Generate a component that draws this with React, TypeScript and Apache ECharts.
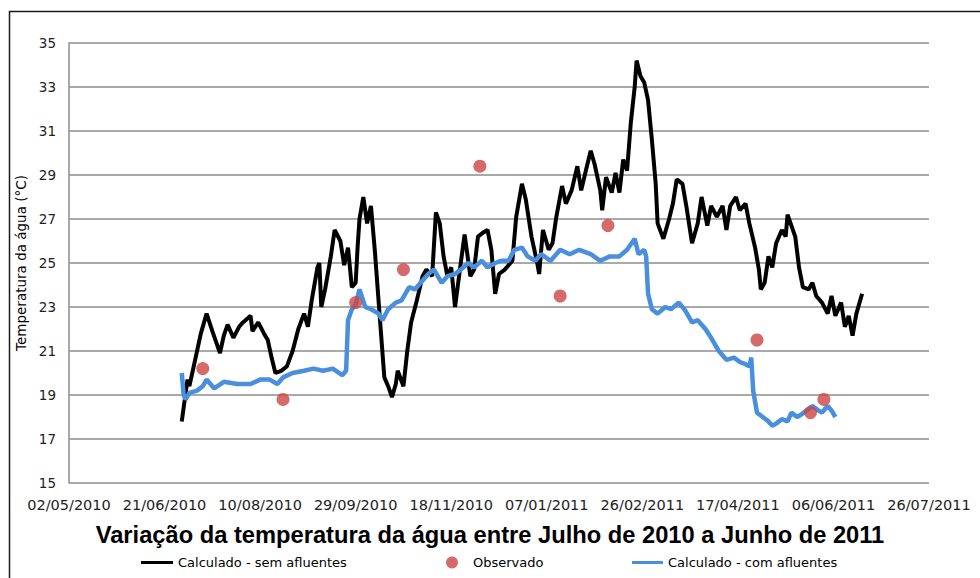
import React, { useEffect, useRef } from "react";
import * as echarts from "echarts";

const titleText = "Variação da temperatura da água entre Julho de 2010 a Junho de 2011";
const yAxisName = "Temperatura da água (°C)";
const seriesNames = ["Calculado - sem afluentes", "Observado", "Calculado - com afluentes"];

const xStartDate = "2010-05-02";
const xEndDate = "2011-07-26";
const xTickDays = 50;
const yMin = 15;
const yMax = 35;
const yStep = 2;

const semAfluentes: [string, number][] = [
  ["2010-06-30", 17.8], ["2010-07-03", 19.7], ["2010-07-04", 19.4], ["2010-07-07", 20.6], ["2010-07-10", 21.8],
  ["2010-07-13", 22.7], ["2010-07-16", 21.9], ["2010-07-20", 20.9], ["2010-07-22", 21.7], ["2010-07-24", 22.2],
  ["2010-07-27", 21.6], ["2010-07-30", 22.1], ["2010-08-01", 22.3], ["2010-08-05", 22.6], ["2010-08-06", 21.9],
  ["2010-08-09", 22.3], ["2010-08-12", 21.8], ["2010-08-14", 21.5], ["2010-08-16", 20.7], ["2010-08-18", 20.0],
  ["2010-08-21", 20.1], ["2010-08-24", 20.3], ["2010-08-27", 21.0], ["2010-08-30", 22.0], ["2010-09-02", 22.7],
  ["2010-09-04", 22.1], ["2010-09-06", 23.3], ["2010-09-09", 24.8], ["2010-09-10", 25.0], ["2010-09-11", 23.0],
  ["2010-09-13", 23.8], ["2010-09-16", 25.3], ["2010-09-18", 26.5], ["2010-09-21", 26.0], ["2010-09-23", 24.9],
  ["2010-09-25", 25.7], ["2010-09-27", 23.9], ["2010-09-29", 24.1], ["2010-09-30", 25.7], ["2010-10-01", 27.0],
  ["2010-10-03", 28.0], ["2010-10-05", 26.8], ["2010-10-07", 27.6], ["2010-10-09", 25.6], ["2010-10-12", 22.1],
  ["2010-10-14", 19.8], ["2010-10-16", 19.4], ["2010-10-18", 18.9], ["2010-10-20", 19.5], ["2010-10-21", 20.1],
  ["2010-10-24", 19.4], ["2010-10-26", 21.0], ["2010-10-28", 22.3], ["2010-10-31", 23.3], ["2010-11-03", 24.4],
  ["2010-11-05", 24.7], ["2010-11-08", 24.4], ["2010-11-10", 27.3], ["2010-11-12", 26.8], ["2010-11-14", 25.3],
  ["2010-11-16", 24.4], ["2010-11-18", 24.8], ["2010-11-20", 23.0], ["2010-11-23", 25.0], ["2010-11-25", 26.3],
  ["2010-11-28", 24.4], ["2010-11-30", 24.7], ["2010-12-02", 26.2], ["2010-12-05", 26.4], ["2010-12-07", 26.5],
  ["2010-12-09", 25.6], ["2010-12-11", 23.6], ["2010-12-13", 24.5], ["2010-12-16", 24.7], ["2010-12-20", 25.1],
  ["2010-12-22", 27.1], ["2010-12-25", 28.6], ["2010-12-27", 27.9], ["2010-12-30", 26.2], ["2011-01-02", 25.0],
  ["2011-01-03", 24.5], ["2011-01-05", 26.5], ["2011-01-08", 25.6], ["2011-01-10", 25.9], ["2011-01-12", 27.1],
  ["2011-01-15", 28.5], ["2011-01-17", 27.7], ["2011-01-20", 28.3], ["2011-01-23", 29.4], ["2011-01-25", 28.3],
  ["2011-01-28", 29.4], ["2011-01-30", 30.1], ["2011-02-01", 29.5], ["2011-02-04", 28.3], ["2011-02-05", 27.4],
  ["2011-02-07", 28.9], ["2011-02-10", 28.2], ["2011-02-12", 29.1], ["2011-02-14", 28.2], ["2011-02-16", 29.7],
  ["2011-02-18", 29.2], ["2011-02-20", 31.4], ["2011-02-22", 33.0], ["2011-02-23", 34.2], ["2011-02-25", 33.5],
  ["2011-02-27", 33.2], ["2011-03-01", 32.4], ["2011-03-03", 30.6], ["2011-03-05", 28.6], ["2011-03-06", 26.8],
  ["2011-03-09", 26.1], ["2011-03-12", 27.0], ["2011-03-14", 27.7], ["2011-03-16", 28.8], ["2011-03-19", 28.6],
  ["2011-03-21", 27.6], ["2011-03-24", 25.9], ["2011-03-27", 26.8], ["2011-03-29", 28.0], ["2011-04-01", 26.7],
  ["2011-04-03", 27.6], ["2011-04-06", 27.1], ["2011-04-09", 27.6], ["2011-04-11", 26.5], ["2011-04-13", 27.6],
  ["2011-04-16", 28.0], ["2011-04-18", 27.4], ["2011-04-21", 27.7], ["2011-04-23", 26.8], ["2011-04-26", 25.7],
  ["2011-04-28", 24.7], ["2011-04-29", 23.8], ["2011-05-01", 24.1], ["2011-05-03", 25.3], ["2011-05-05", 24.8],
  ["2011-05-07", 25.9], ["2011-05-10", 26.5], ["2011-05-12", 26.2], ["2011-05-13", 27.2], ["2011-05-15", 26.7],
  ["2011-05-17", 26.2], ["2011-05-19", 24.8], ["2011-05-21", 23.9], ["2011-05-24", 23.8], ["2011-05-26", 24.1],
  ["2011-05-28", 23.5], ["2011-05-31", 23.2], ["2011-06-03", 22.7], ["2011-06-05", 23.5], ["2011-06-07", 22.6],
  ["2011-06-10", 23.2], ["2011-06-12", 22.1], ["2011-06-14", 22.6], ["2011-06-16", 21.7], ["2011-06-18", 22.7],
  ["2011-06-21", 23.6],
];

const comAfluentes: [string, number][] = [
  ["2010-06-30", 20.0], ["2010-07-01", 19.0], ["2010-07-02", 18.8], ["2010-07-04", 19.1], ["2010-07-08", 19.2],
  ["2010-07-11", 19.4], ["2010-07-13", 19.7], ["2010-07-17", 19.3], ["2010-07-22", 19.6], ["2010-07-29", 19.5],
  ["2010-08-05", 19.5], ["2010-08-10", 19.7], ["2010-08-15", 19.7], ["2010-08-19", 19.5], ["2010-08-22", 19.8],
  ["2010-08-27", 20.0], ["2010-09-02", 20.1], ["2010-09-07", 20.2], ["2010-09-12", 20.1], ["2010-09-17", 20.2],
  ["2010-09-22", 19.9], ["2010-09-24", 20.1], ["2010-09-25", 22.4], ["2010-09-27", 22.9], ["2010-09-29", 23.1],
  ["2010-10-01", 23.8], ["2010-10-04", 23.0], ["2010-10-07", 22.9], ["2010-10-11", 22.7], ["2010-10-13", 22.4],
  ["2010-10-16", 22.9], ["2010-10-20", 23.2], ["2010-10-23", 23.3], ["2010-10-27", 23.9], ["2010-10-30", 23.8],
  ["2010-11-03", 24.2], ["2010-11-06", 24.5], ["2010-11-09", 24.7], ["2010-11-13", 24.1], ["2010-11-16", 24.4],
  ["2010-11-20", 24.5], ["2010-11-23", 24.7], ["2010-11-27", 25.0], ["2010-11-30", 24.8], ["2010-12-04", 25.1],
  ["2010-12-07", 24.8], ["2010-12-11", 25.0], ["2010-12-14", 25.1], ["2010-12-18", 25.1], ["2010-12-21", 25.6],
  ["2010-12-25", 25.7], ["2010-12-28", 25.3], ["2011-01-01", 25.1], ["2011-01-04", 25.4], ["2011-01-09", 25.1],
  ["2011-01-14", 25.6], ["2011-01-19", 25.4], ["2011-01-24", 25.6], ["2011-01-30", 25.4], ["2011-02-04", 25.1],
  ["2011-02-09", 25.3], ["2011-02-14", 25.3], ["2011-02-18", 25.6], ["2011-02-22", 26.1], ["2011-02-24", 25.4],
  ["2011-02-27", 25.6], ["2011-02-28", 25.3], ["2011-03-01", 23.6], ["2011-03-03", 22.9], ["2011-03-06", 22.7],
  ["2011-03-10", 23.0], ["2011-03-13", 22.9], ["2011-03-17", 23.2], ["2011-03-20", 22.9], ["2011-03-24", 22.3],
  ["2011-03-27", 22.4], ["2011-03-31", 22.0], ["2011-04-03", 21.6], ["2011-04-07", 21.0], ["2011-04-11", 20.6],
  ["2011-04-15", 20.7], ["2011-04-18", 20.5], ["2011-04-21", 20.4], ["2011-04-23", 20.3], ["2011-04-24", 20.7],
  ["2011-04-25", 19.2], ["2011-04-27", 18.2], ["2011-04-30", 18.0], ["2011-05-03", 17.8], ["2011-05-05", 17.6],
  ["2011-05-07", 17.7], ["2011-05-10", 17.9], ["2011-05-13", 17.8], ["2011-05-15", 18.2], ["2011-05-18", 18.0],
  ["2011-05-20", 18.1], ["2011-05-23", 18.3], ["2011-05-26", 18.5], ["2011-05-29", 18.3], ["2011-05-31", 18.2],
  ["2011-06-03", 18.5], ["2011-06-05", 18.3], ["2011-06-07", 18.0],
];

const observado: [string, number][] = [
  ["2010-07-11", 20.2], ["2010-08-22", 18.8], ["2010-09-29", 23.2], ["2010-10-24", 24.7], ["2010-12-03", 29.4],
  ["2011-01-14", 23.5], ["2011-02-08", 26.7], ["2011-04-27", 21.5], ["2011-05-25", 18.2], ["2011-06-01", 18.8],
];

const DAY_MS = 86400000;
function utc(s: string): number {
  const [y, m, d] = s.split("-").map(Number);
  return Date.UTC(y, m - 1, d);
}
const day0 = utc(xStartDate);
const toDay = (s: string) => (utc(s) - day0) / DAY_MS;
const toPoints = (arr: [string, number][]) => arr.map(([d, v]) => [toDay(d), v]);
const pad = (n: number) => (n < 10 ? "0" + n : "" + n);
const fmtDay = (v: number) => {
  const dt = new Date(day0 + Math.round(v) * DAY_MS);
  return `${pad(dt.getUTCDate())}/${pad(dt.getUTCMonth() + 1)}/${dt.getUTCFullYear()}`;
};

const FONT = "DejaVu Sans";
const legendText = { fontFamily: FONT, fontSize: 13, color: "#000" };

export default function App() {
  const ref = useRef<HTMLDivElement>(null);
  useEffect(() => {
    if (!ref.current) return;
    const chart = echarts.init(ref.current, undefined, { renderer: "svg" });
    chart.setOption({
      animation: false,
      backgroundColor: "#ffffff",
      title: {
        text: titleText,
        left: "center",
        top: 523,
        padding: 0,
        textStyle: { fontFamily: "Liberation Sans", fontWeight: "bold", fontSize: 23.7, color: "#000" },
      },
      grid: { left: 69, top: 43, right: 51, bottom: 95 },
      legend: [
        {
          data: [seriesNames[0]], left: 141, top: 556, padding: 0, icon: "rect", itemWidth: 32, itemHeight: 3,
          textStyle: legendText,
        },
        {
          data: [seriesNames[1]], left: 446, top: 556, padding: 0, icon: "circle", itemWidth: 12, itemHeight: 12,
          textStyle: { ...legendText, padding: [0, 0, 0, 10] },
        },
        {
          data: [seriesNames[2]], left: 632, top: 556, padding: 0, icon: "rect", itemWidth: 31, itemHeight: 3,
          textStyle: legendText,
        },
      ],
      xAxis: {
        type: "value",
        min: 0,
        max: toDay(xEndDate),
        interval: xTickDays,
        axisLine: { show: false },
        axisTick: { show: false },
        splitLine: { show: false },
        axisLabel: { formatter: fmtDay, fontFamily: FONT, fontSize: 14.5, color: "#222", margin: 14 },
      },
      yAxis: {
        type: "value",
        min: yMin,
        max: yMax,
        interval: yStep,
        name: yAxisName,
        nameLocation: "middle",
        nameGap: 40,
        nameTextStyle: { fontFamily: FONT, fontSize: 13.5, color: "#000" },
        axisLine: { show: true, lineStyle: { color: "#8c8c8c", width: 1.5 } },
        axisTick: { show: false },
        splitLine: { lineStyle: { color: "#8c8c8c", width: 1.5 } },
        axisLabel: { fontFamily: FONT, fontSize: 13.5, color: "#222", margin: 13 },
      },
      graphic: [
        {
          type: "rect",
          silent: true,
          shape: { x: 9.5, y: 11.5, width: 1000, height: 600 },
          style: { fill: "none", stroke: "#1a1a1a", lineWidth: 1.5 },
        },
      ],
      series: [
        {
          name: seriesNames[0],
          type: "line",
          data: toPoints(semAfluentes),
          symbol: "none",
          lineStyle: { color: "#000000", width: 4 },
          itemStyle: { color: "#000000" },
          z: 2,
        },
        {
          name: seriesNames[2],
          type: "line",
          data: toPoints(comAfluentes),
          symbol: "none",
          lineStyle: { color: "#4a8fdc", width: 4.5 },
          itemStyle: { color: "#4a8fdc" },
          z: 3,
        },
        {
          name: seriesNames[1],
          type: "scatter",
          data: toPoints(observado),
          symbol: "circle",
          symbolSize: 13,
          itemStyle: { color: "#cc4545" },
          z: 4,
        },
      ],
    });
    return () => chart.dispose();
  }, []);
  return <div ref={ref} style={{ position: "fixed", left: 0, top: 0, width: 980, height: 578 }} />;
}
